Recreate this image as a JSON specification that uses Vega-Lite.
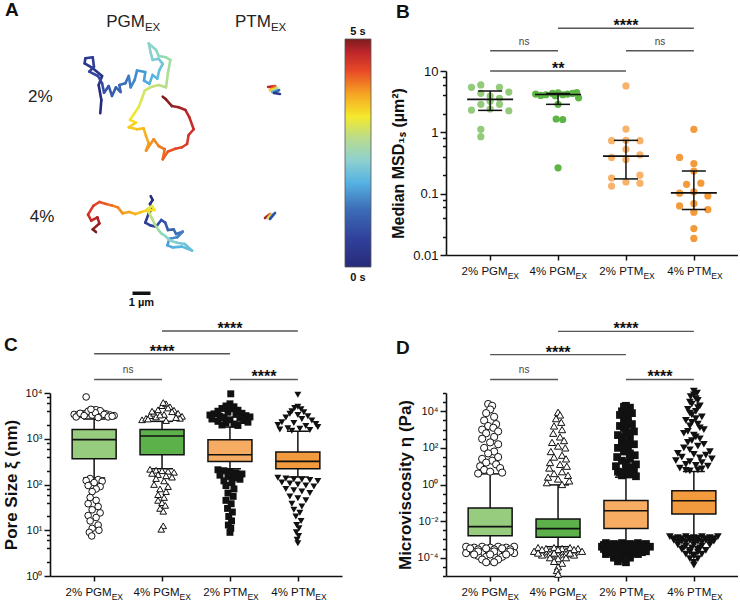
{
"$schema": "https://vega.github.io/schema/vega-lite/v6.json",
"padding": {"left": 2, "top": 0, "right": 0, "bottom": 0},
"config": {
 "font": "Liberation Sans",
 "view": {"stroke": null},
 "axis": {"grid": false, "domainColor": "#111", "domainWidth": 1.6, "tickColor": "#111", "tickWidth": 1.5, "labelColor": "#111", "titleColor": "#111", "labelFont": "Liberation Sans", "titleFont": "Liberation Sans"},
 "title": {"fontSize": 19, "fontWeight": "bold", "color": "#111", "anchor": "start", "frame": "group", "offset": 0, "font": "Liberation Sans"}
},
"datasets": {
 "traj": [
  {"x":5.46,"y":10.93,"x2":5.52,"y2":11.67,"t":0},{"x":5.52,"y":11.67,"x2":5.37,"y2":12.5,"t":0.07},{"x":5.37,"y":12.5,"x2":5.56,"y2":13,"t":0.15},{"x":5.56,"y":13,"x2":5.04,"y2":13.43,"t":0.22},{"x":5.04,"y":13.43,"x2":4.59,"y2":13.7,"t":0.29},{"x":4.59,"y":13.7,"x2":4.63,"y2":13.98,"t":0.37},{"x":4.63,"y":13.98,"x2":5.04,"y2":14.04,"t":0.44},{"x":5.04,"y":14.04,"x2":5.11,"y2":13.52,"t":0.51},{"x":5.11,"y":13.52,"x2":4.85,"y2":13.24,"t":0.59},{"x":4.85,"y":13.24,"x2":5.33,"y2":13,"t":0.66},{"x":5.33,"y":13,"x2":5.56,"y2":12.59,"t":0.74},{"x":5.56,"y":12.59,"x2":5.67,"y2":12.07,"t":0.81},{"x":5.67,"y":12.07,"x2":5.93,"y2":12.44,"t":0.88},{"x":5.93,"y":12.44,"x2":6.11,"y2":11.89,"t":0.96},{"x":6.11,"y":11.89,"x2":6.33,"y2":12.37,"t":1.03},{"x":6.33,"y":12.37,"x2":6.59,"y2":12.11,"t":1.1},{"x":6.59,"y":12.11,"x2":6.52,"y2":12.5,"t":1.18},{"x":6.52,"y":12.5,"x2":6.85,"y2":12.59,"t":1.25},{"x":6.85,"y":12.59,"x2":7.04,"y2":13,"t":1.32},{"x":7.04,"y":13,"x2":7.15,"y2":12.37,"t":1.4},{"x":7.15,"y":12.37,"x2":7.37,"y2":12.78,"t":1.47},{"x":7.37,"y":12.78,"x2":7.5,"y2":13.3,"t":1.54},{"x":7.5,"y":13.3,"x2":7.96,"y2":13.22,"t":1.62},{"x":7.96,"y":13.22,"x2":7.89,"y2":12.74,"t":1.69},{"x":7.89,"y":12.74,"x2":8.19,"y2":12.56,"t":1.76},{"x":8.19,"y":12.56,"x2":8.37,"y2":13.06,"t":1.84},{"x":8.37,"y":13.06,"x2":8.63,"y2":12.85,"t":1.91},{"x":8.63,"y":12.85,"x2":8.74,"y2":13.33,"t":1.99},{"x":8.74,"y":13.33,"x2":8.93,"y2":13.67,"t":2.06},{"x":8.93,"y":13.67,"x2":8.7,"y2":13.96,"t":2.13},{"x":8.7,"y":13.96,"x2":8.37,"y2":13.89,"t":2.21},{"x":8.37,"y":13.89,"x2":8.26,"y2":14.3,"t":2.28},{"x":8.26,"y":14.3,"x2":8.15,"y2":14.81,"t":2.35},{"x":8.15,"y":14.81,"x2":8.56,"y2":14.44,"t":2.43},{"x":8.56,"y":14.44,"x2":8.7,"y2":14.11,"t":2.5},{"x":8.7,"y":14.11,"x2":9.11,"y2":14.04,"t":2.57},{"x":9.11,"y":14.04,"x2":9.35,"y2":13.89,"t":2.65},{"x":9.35,"y":13.89,"x2":9.22,"y2":13.15,"t":2.72},{"x":9.22,"y":13.15,"x2":9.11,"y2":12.37,"t":2.79},{"x":9.11,"y":12.37,"x2":8.7,"y2":12.5,"t":2.87},{"x":8.7,"y":12.5,"x2":8.24,"y2":12.37,"t":2.94},{"x":8.24,"y":12.37,"x2":7.93,"y2":12.19,"t":3.01},{"x":7.93,"y":12.19,"x2":7.78,"y2":11.76,"t":3.09},{"x":7.78,"y":11.76,"x2":7.59,"y2":11.26,"t":3.16},{"x":7.59,"y":11.26,"x2":7.33,"y2":10.89,"t":3.24},{"x":7.33,"y":10.89,"x2":7.11,"y2":10.56,"t":3.31},{"x":7.11,"y":10.56,"x2":7.44,"y2":10.41,"t":3.38},{"x":7.44,"y":10.41,"x2":7.04,"y2":10.15,"t":3.46},{"x":7.04,"y":10.15,"x2":7.5,"y2":10.04,"t":3.53},{"x":7.5,"y":10.04,"x2":7.87,"y2":10.09,"t":3.6},{"x":7.87,"y":10.09,"x2":8,"y2":9.67,"t":3.68},{"x":8,"y":9.67,"x2":8.15,"y2":9.26,"t":3.75},{"x":8.15,"y":9.26,"x2":8,"y2":8.85,"t":3.82},{"x":8,"y":8.85,"x2":8.43,"y2":9.48,"t":3.9},{"x":8.43,"y":9.48,"x2":8.7,"y2":9.11,"t":3.97},{"x":8.7,"y":9.11,"x2":9.04,"y2":8.93,"t":4.04},{"x":9.04,"y":8.93,"x2":8.93,"y2":8.37,"t":4.12},{"x":8.93,"y":8.37,"x2":9.22,"y2":8.8,"t":4.19},{"x":9.22,"y":8.8,"x2":9.63,"y2":8.96,"t":4.26},{"x":9.63,"y":8.96,"x2":10,"y2":9.04,"t":4.34},{"x":10,"y":9.04,"x2":10.28,"y2":9.22,"t":4.41},{"x":10.28,"y":9.22,"x2":10.37,"y2":9.72,"t":4.49},{"x":10.37,"y":9.72,"x2":10.65,"y2":10.04,"t":4.56},{"x":10.65,"y":10.04,"x2":10.41,"y2":10.7,"t":4.63},{"x":10.41,"y":10.7,"x2":10.19,"y2":11.11,"t":4.71},{"x":10.19,"y":11.11,"x2":9.81,"y2":11.26,"t":4.78},{"x":9.81,"y":11.26,"x2":9.44,"y2":11.33,"t":4.85},{"x":9.44,"y":11.33,"x2":9.11,"y2":11.7,"t":4.93},{"x":9.11,"y":11.7,"x2":8.93,"y2":11.85,"t":5},
  {"x":8.26,"y":6.33,"x2":8.37,"y2":6.11,"t":0},{"x":8.37,"y":6.11,"x2":8.22,"y2":5.89,"t":0.11},{"x":8.22,"y":5.89,"x2":8.37,"y2":5.65,"t":0.22},{"x":8.37,"y":5.65,"x2":8.15,"y2":5.37,"t":0.33},{"x":8.15,"y":5.37,"x2":7.96,"y2":4.85,"t":0.43},{"x":7.96,"y":4.85,"x2":8.24,"y2":4.7,"t":0.54},{"x":8.24,"y":4.7,"x2":8.56,"y2":4.63,"t":0.65},{"x":8.56,"y":4.63,"x2":8.85,"y2":5,"t":0.76},{"x":8.85,"y":5,"x2":9.07,"y2":4.85,"t":0.87},{"x":9.07,"y":4.85,"x2":9.22,"y2":4.44,"t":0.98},{"x":9.22,"y":4.44,"x2":9.54,"y2":4.48,"t":1.09},{"x":9.54,"y":4.48,"x2":9.67,"y2":4.22,"t":1.2},{"x":9.67,"y":4.22,"x2":10.04,"y2":4.35,"t":1.3},{"x":10.04,"y":4.35,"x2":9.74,"y2":4.04,"t":1.41},{"x":9.74,"y":4.04,"x2":9.3,"y2":3.96,"t":1.52},{"x":9.3,"y":3.96,"x2":9.19,"y2":3.59,"t":1.63},{"x":9.19,"y":3.59,"x2":9.48,"y2":3.48,"t":1.74},{"x":9.48,"y":3.48,"x2":10,"y2":3.52,"t":1.85},{"x":10,"y":3.52,"x2":10.56,"y2":3.3,"t":1.96},{"x":10.56,"y":3.3,"x2":10.15,"y2":3.67,"t":2.07},{"x":10.15,"y":3.67,"x2":9.72,"y2":3.74,"t":2.17},{"x":9.72,"y":3.74,"x2":9.35,"y2":3.85,"t":2.28},{"x":9.35,"y":3.85,"x2":9.07,"y2":4.11,"t":2.39},{"x":9.07,"y":4.11,"x2":8.85,"y2":4.26,"t":2.5},{"x":8.85,"y":4.26,"x2":8.67,"y2":4.48,"t":2.61},{"x":8.67,"y":4.48,"x2":8.48,"y2":4.78,"t":2.72},{"x":8.48,"y":4.78,"x2":8.33,"y2":5.09,"t":2.83},{"x":8.33,"y":5.09,"x2":8.19,"y2":5.37,"t":2.93},{"x":8.19,"y":5.37,"x2":8.07,"y2":5.59,"t":3.04},{"x":8.07,"y":5.59,"x2":8.33,"y2":5.78,"t":3.15},{"x":8.33,"y":5.78,"x2":8.48,"y2":5.56,"t":3.26},{"x":8.48,"y":5.56,"x2":8,"y2":5.52,"t":3.37},{"x":8,"y":5.52,"x2":7.74,"y2":5.44,"t":3.48},{"x":7.74,"y":5.44,"x2":7.41,"y2":5.33,"t":3.59},{"x":7.41,"y":5.33,"x2":7.07,"y2":5.44,"t":3.7},{"x":7.07,"y":5.44,"x2":6.7,"y2":5.37,"t":3.8},{"x":6.7,"y":5.37,"x2":6.44,"y2":5.7,"t":3.91},{"x":6.44,"y":5.7,"x2":6.11,"y2":5.81,"t":4.02},{"x":6.11,"y":5.81,"x2":5.78,"y2":5.89,"t":4.13},{"x":5.78,"y":5.89,"x2":5.41,"y2":6,"t":4.24},{"x":5.41,"y":6,"x2":5.07,"y2":5.78,"t":4.35},{"x":5.07,"y":5.78,"x2":4.78,"y2":5.3,"t":4.46},{"x":4.78,"y":5.3,"x2":4.96,"y2":4.96,"t":4.57},{"x":4.96,"y":4.96,"x2":5.3,"y2":5.15,"t":4.67},{"x":5.3,"y":5.15,"x2":5.41,"y2":4.81,"t":4.78},{"x":5.41,"y":4.81,"x2":5.04,"y2":4.48,"t":4.89},{"x":5.04,"y":4.48,"x2":5.22,"y2":4.33,"t":5},
  {"x":14.78,"y":12.39,"x2":15.17,"y2":12.44,"t":4.7},{"x":15.17,"y":12.44,"x2":14.89,"y2":12.22,"t":4.2},{"x":14.89,"y":12.22,"x2":15.28,"y2":12.33,"t":3.5},{"x":15.28,"y":12.33,"x2":15,"y2":12.11,"t":2.9},{"x":15,"y":12.11,"x2":15.39,"y2":12.22,"t":2},{"x":15.39,"y":12.22,"x2":15.11,"y2":12.06,"t":1.2},{"x":15.11,"y":12.06,"x2":15.44,"y2":12,"t":0.4},
  {"x":14.61,"y":5.11,"x2":14.89,"y2":5.33,"t":4.8},{"x":14.89,"y":5.33,"x2":14.78,"y2":5.11,"t":4},{"x":14.78,"y":5.11,"x2":15.06,"y2":5.33,"t":3.2},{"x":15.06,"y":5.33,"x2":14.89,"y2":5.06,"t":2},{"x":14.89,"y":5.06,"x2":15.17,"y2":5.39,"t":0.8}
 ],
 "alab": [
  {"x":7.94,"y":15.74,"s":"PGM","k":"main"},{"x":14.94,"y":15.74,"s":"PTM","k":"main"},
  {"x":7.94,"y":15.74,"s":"EX","k":"sub"},{"x":14.94,"y":15.74,"s":"EX","k":"sub"},
  {"x":2.13,"y":11.57,"s":"2%","k":"row"},{"x":2.22,"y":4.9,"s":"4%","k":"row"}
 ],
 "sbar": [{"x":7.25,"x2":8.25,"y":0.93,"mid":7.75,"ly":0.22,"s":"1 µm"}],
 "ptsB": [
  {"g":"2% PGM","v":5.42,"j":-2},{"g":"2% PGM","v":5.92,"j":-1},{"g":"2% PGM","v":5.42,"j":1},{"g":"2% PGM","v":4.54,"j":2},{"g":"2% PGM","v":4.32,"j":-1},{"g":"2% PGM","v":3.59,"j":1},{"g":"2% PGM","v":3.2,"j":0},{"g":"2% PGM","v":2.86,"j":-1},{"g":"2% PGM","v":2.86,"j":1},{"g":"2% PGM","v":2.31,"j":-2},{"g":"2% PGM","v":2.25,"j":2},{"g":"2% PGM","v":2.4,"j":0},{"g":"2% PGM","v":3.9,"j":0},{"g":"2% PGM","v":1.12,"j":-1},{"g":"2% PGM","v":0.85,"j":-1},
  {"g":"4% PGM","v":4.2,"j":-2.4},{"g":"4% PGM","v":4.0,"j":-1.85},{"g":"4% PGM","v":4.1,"j":-1.3},{"g":"4% PGM","v":4.3,"j":-0.6},{"g":"4% PGM","v":4.4,"j":0},{"g":"4% PGM","v":4.1,"j":0.5},{"g":"4% PGM","v":4.2,"j":1},{"g":"4% PGM","v":4.3,"j":1.55},{"g":"4% PGM","v":4.45,"j":2},{"g":"4% PGM","v":3.95,"j":-0.3},{"g":"4% PGM","v":3.65,"j":2.2},{"g":"4% PGM","v":2.86,"j":0},{"g":"4% PGM","v":1.65,"j":-0.2},{"g":"4% PGM","v":1.62,"j":0.5},{"g":"4% PGM","v":0.264,"j":0},
  {"g":"2% PTM","v":5.7,"j":0},{"g":"2% PTM","v":1.13,"j":0},{"g":"2% PTM","v":0.73,"j":-1.54},{"g":"2% PTM","v":0.74,"j":0},{"g":"2% PTM","v":0.73,"j":1.5},{"g":"2% PTM","v":0.53,"j":0},{"g":"2% PTM","v":0.39,"j":-1.54},{"g":"2% PTM","v":0.43,"j":1.5},{"g":"2% PTM","v":0.36,"j":0},{"g":"2% PTM","v":0.18,"j":-1.54},{"g":"2% PTM","v":0.2,"j":1.5},{"g":"2% PTM","v":0.155,"j":0},{"g":"2% PTM","v":0.133,"j":-1.54},{"g":"2% PTM","v":0.148,"j":1.5},
  {"g":"4% PTM","v":1.12,"j":0},{"g":"4% PTM","v":0.39,"j":-1.53},{"g":"4% PTM","v":0.31,"j":0},{"g":"4% PTM","v":0.234,"j":0},{"g":"4% PTM","v":0.142,"j":-0.78},{"g":"4% PTM","v":0.148,"j":0.75},{"g":"4% PTM","v":0.102,"j":-1.53},{"g":"4% PTM","v":0.107,"j":0},{"g":"4% PTM","v":0.092,"j":1.5},{"g":"4% PTM","v":0.063,"j":-1.53},{"g":"4% PTM","v":0.069,"j":0},{"g":"4% PTM","v":0.055,"j":1.5},{"g":"4% PTM","v":0.05,"j":0},{"g":"4% PTM","v":0.027,"j":0},{"g":"4% PTM","v":0.0186,"j":0}
 ],
 "sumB": [
  {"g":"2% PGM","med":3.45,"q1":2.28,"q3":4.72},{"g":"4% PGM","med":4.15,"q1":2.86,"q3":4.3},{"g":"2% PTM","med":0.41,"q1":0.174,"q3":0.74},{"g":"4% PTM","med":0.103,"q1":0.055,"q3":0.234}
 ],
 "brB": [
  {"a":"2% PGM","b":"4% PGM","y":21.4,"s":"ns","span":1},{"a":"2% PTM","b":"4% PTM","y":21.4,"s":"ns","span":1},{"a":"2% PGM","b":"2% PTM","y":10,"s":"**","span":2},{"a":"4% PGM","b":"4% PTM","y":49.7,"s":"****","span":2}
 ],
 "sumC": [
  {"g":"2% PGM","wlo":139,"q1":366,"med":955,"q3":1600,"whi":2700},{"g":"4% PGM","wlo":221,"q1":447,"med":1150,"q3":1600,"whi":2400},{"g":"2% PTM","wlo":221,"q1":320,"med":447,"q3":955,"whi":1800},{"g":"4% PTM","wlo":145,"q1":221,"med":320,"q3":515,"whi":1450}
 ],
 "brC": [
  {"a":"2% PGM","b":"4% PGM","y":19800,"s":"ns","span":1},{"a":"2% PTM","b":"4% PTM","y":19800,"s":"****","span":1},{"a":"2% PGM","b":"2% PTM","y":72200,"s":"****","span":2},{"a":"4% PGM","b":"4% PTM","y":226000,"s":"****","span":2}
 ],
 "outC": [
  {"g":"2% PGM","v":3400,"j":-5},{"g":"2% PGM","v":3300,"j":-4},{"g":"2% PGM","v":3500,"j":-3},{"g":"2% PGM","v":3600,"j":-2},{"g":"2% PGM","v":3800,"j":-1},{"g":"2% PGM","v":4200,"j":0},{"g":"2% PGM","v":3900,"j":1},{"g":"2% PGM","v":3700,"j":2},{"g":"2% PGM","v":3500,"j":3},{"g":"2% PGM","v":3300,"j":4},{"g":"2% PGM","v":3200,"j":5},{"g":"2% PGM","v":3000,"j":-4.5},{"g":"2% PGM","v":3600,"j":-3.5},{"g":"2% PGM","v":4000,"j":-1.5},{"g":"2% PGM","v":4300,"j":0.5},{"g":"2% PGM","v":4100,"j":1.5},{"g":"2% PGM","v":3400,"j":2.5},{"g":"2% PGM","v":3000,"j":3.5},{"g":"2% PGM","v":3300,"j":-0.5},{"g":"2% PGM","v":3700,"j":0.3},{"g":"2% PGM","v":4400,"j":-0.8},{"g":"2% PGM","v":3200,"j":-2.5},{"g":"2% PGM","v":2900,"j":1},{"g":"2% PGM","v":3100,"j":4.5},{"g":"2% PGM","v":8200,"j":-2},
  {"g":"2% PGM","v":135,"j":-1},{"g":"2% PGM","v":128,"j":1},{"g":"2% PGM","v":122,"j":-2},{"g":"2% PGM","v":118,"j":2},{"g":"2% PGM","v":110,"j":0},{"g":"2% PGM","v":95,"j":-1.5},{"g":"2% PGM","v":90,"j":1.5},{"g":"2% PGM","v":80,"j":0.5},{"g":"2% PGM","v":70,"j":-0.5},{"g":"2% PGM","v":52,"j":-1},{"g":"2% PGM","v":45,"j":0.5},{"g":"2% PGM","v":38,"j":-1.5},{"g":"2% PGM","v":33,"j":1},{"g":"2% PGM","v":28,"j":-0.5},{"g":"2% PGM","v":24,"j":1.5},{"g":"2% PGM","v":21,"j":-1.5},{"g":"2% PGM","v":19,"j":0.5},{"g":"2% PGM","v":16,"j":-1},{"g":"2% PGM","v":13,"j":1},{"g":"2% PGM","v":11,"j":-0.5},{"g":"2% PGM","v":10,"j":1.2},{"g":"2% PGM","v":9,"j":-1.2},{"g":"2% PGM","v":7.5,"j":-0.6},
  {"g":"4% PGM","v":2600,"j":-5},{"g":"4% PGM","v":2800,"j":-4},{"g":"4% PGM","v":3200,"j":-3},{"g":"4% PGM","v":3600,"j":-2},{"g":"4% PGM","v":4300,"j":-1},{"g":"4% PGM","v":5300,"j":0},{"g":"4% PGM","v":5800,"j":1},{"g":"4% PGM","v":5000,"j":2},{"g":"4% PGM","v":4200,"j":3},{"g":"4% PGM","v":3600,"j":4},{"g":"4% PGM","v":3100,"j":5},{"g":"4% PGM","v":2700,"j":-3.5},{"g":"4% PGM","v":3000,"j":-1.5},{"g":"4% PGM","v":3400,"j":0.5},{"g":"4% PGM","v":4700,"j":1.5},{"g":"4% PGM","v":3900,"j":2.5},{"g":"4% PGM","v":2800,"j":4.5},{"g":"4% PGM","v":2500,"j":1},{"g":"4% PGM","v":3300,"j":-0.5},{"g":"4% PGM","v":4000,"j":-2.5},{"g":"4% PGM","v":6200,"j":0.3},{"g":"4% PGM","v":2900,"j":3.5},
  {"g":"4% PGM","v":215,"j":-3},{"g":"4% PGM","v":205,"j":-1.5},{"g":"4% PGM","v":200,"j":0},{"g":"4% PGM","v":195,"j":1.5},{"g":"4% PGM","v":185,"j":3},{"g":"4% PGM","v":175,"j":-2.5},{"g":"4% PGM","v":165,"j":-1},{"g":"4% PGM","v":155,"j":1},{"g":"4% PGM","v":145,"j":2.5},{"g":"4% PGM","v":135,"j":-1.5},{"g":"4% PGM","v":120,"j":0.5},{"g":"4% PGM","v":100,"j":-2},{"g":"4% PGM","v":90,"j":1.5},{"g":"4% PGM","v":80,"j":-0.5},{"g":"4% PGM","v":70,"j":1},{"g":"4% PGM","v":60,"j":-1},{"g":"4% PGM","v":52,"j":0.5},{"g":"4% PGM","v":45,"j":-1},{"g":"4% PGM","v":40,"j":0},{"g":"4% PGM","v":35,"j":0.8},{"g":"4% PGM","v":30,"j":-0.5},{"g":"4% PGM","v":26,"j":0.3},{"g":"4% PGM","v":12.5,"j":0.3},{"g":"4% PGM","v":10.5,"j":-0.2},
  {"g":"2% PTM","v":9600,"j":0.2},{"g":"2% PTM","v":5800,"j":0},{"g":"2% PTM","v":5200,"j":-1},{"g":"2% PTM","v":5000,"j":1},{"g":"2% PTM","v":4600,"j":-2},{"g":"2% PTM","v":4500,"j":0.5},{"g":"2% PTM","v":4200,"j":2},{"g":"2% PTM","v":4000,"j":-3},{"g":"2% PTM","v":3800,"j":-0.5},{"g":"2% PTM","v":3600,"j":3},{"g":"2% PTM","v":3500,"j":-4},{"g":"2% PTM","v":3400,"j":1.5},{"g":"2% PTM","v":3300,"j":-5},{"g":"2% PTM","v":3200,"j":4},{"g":"2% PTM","v":3100,"j":-2.5},{"g":"2% PTM","v":3000,"j":5},{"g":"2% PTM","v":2900,"j":-1.5},{"g":"2% PTM","v":2800,"j":2.5},{"g":"2% PTM","v":2700,"j":-4.5},{"g":"2% PTM","v":2600,"j":0},{"g":"2% PTM","v":2500,"j":3.5},{"g":"2% PTM","v":2400,"j":-3},{"g":"2% PTM","v":2300,"j":4.5},{"g":"2% PTM","v":2200,"j":-1},{"g":"2% PTM","v":2100,"j":1},{"g":"2% PTM","v":2000,"j":-2},{"g":"2% PTM","v":1950,"j":2},
  {"g":"2% PTM","v":210,"j":-3},{"g":"2% PTM","v":200,"j":-1.5},{"g":"2% PTM","v":190,"j":0},{"g":"2% PTM","v":180,"j":1.5},{"g":"2% PTM","v":170,"j":3},{"g":"2% PTM","v":160,"j":-2.5},{"g":"2% PTM","v":150,"j":-0.5},{"g":"2% PTM","v":140,"j":1},{"g":"2% PTM","v":130,"j":2.5},{"g":"2% PTM","v":120,"j":-1.5},{"g":"2% PTM","v":110,"j":0.5},{"g":"2% PTM","v":95,"j":-1},{"g":"2% PTM","v":80,"j":1},{"g":"2% PTM","v":65,"j":-0.5},{"g":"2% PTM","v":55,"j":0.8},{"g":"2% PTM","v":45,"j":-1},{"g":"2% PTM","v":38,"j":0.3},{"g":"2% PTM","v":30,"j":-0.6},{"g":"2% PTM","v":25,"j":0.6},{"g":"2% PTM","v":20,"j":-0.3},{"g":"2% PTM","v":16,"j":0.4},{"g":"2% PTM","v":13,"j":-0.4},{"g":"2% PTM","v":11,"j":0.2},{"g":"2% PTM","v":9,"j":0},
  {"g":"4% PTM","v":9100,"j":0},{"g":"4% PTM","v":5000,"j":0},{"g":"4% PTM","v":4700,"j":-0.8},{"g":"4% PTM","v":4400,"j":0.8},{"g":"4% PTM","v":4000,"j":-1.5},{"g":"4% PTM","v":3800,"j":1.5},{"g":"4% PTM","v":3500,"j":-2},{"g":"4% PTM","v":3300,"j":0},{"g":"4% PTM","v":3100,"j":2.5},{"g":"4% PTM","v":2900,"j":-3},{"g":"4% PTM","v":2700,"j":1},{"g":"4% PTM","v":2500,"j":3.5},{"g":"4% PTM","v":2300,"j":-4},{"g":"4% PTM","v":2200,"j":-1},{"g":"4% PTM","v":2100,"j":4.5},{"g":"4% PTM","v":2000,"j":-5},{"g":"4% PTM","v":1900,"j":2},{"g":"4% PTM","v":1800,"j":5},{"g":"4% PTM","v":1700,"j":-2.5},{"g":"4% PTM","v":1650,"j":0.5},{"g":"4% PTM","v":1600,"j":-4.5},{"g":"4% PTM","v":1550,"j":3},{"g":"4% PTM","v":1500,"j":-1.5},
  {"g":"4% PTM","v":140,"j":-5},{"g":"4% PTM","v":135,"j":-3},{"g":"4% PTM","v":130,"j":-1},{"g":"4% PTM","v":128,"j":1},{"g":"4% PTM","v":125,"j":3},{"g":"4% PTM","v":120,"j":5},{"g":"4% PTM","v":110,"j":-4},{"g":"4% PTM","v":105,"j":-2},{"g":"4% PTM","v":100,"j":0},{"g":"4% PTM","v":95,"j":2},{"g":"4% PTM","v":90,"j":4},{"g":"4% PTM","v":80,"j":-3},{"g":"4% PTM","v":75,"j":-1},{"g":"4% PTM","v":70,"j":1},{"g":"4% PTM","v":65,"j":3},{"g":"4% PTM","v":55,"j":-2},{"g":"4% PTM","v":50,"j":0},{"g":"4% PTM","v":45,"j":2},{"g":"4% PTM","v":38,"j":-1.5},{"g":"4% PTM","v":33,"j":1},{"g":"4% PTM","v":28,"j":-1},{"g":"4% PTM","v":24,"j":0.5},{"g":"4% PTM","v":20,"j":-0.5},{"g":"4% PTM","v":16,"j":0.8},{"g":"4% PTM","v":13,"j":-0.3},{"g":"4% PTM","v":11,"j":0.3},{"g":"4% PTM","v":9,"j":-0.4},{"g":"4% PTM","v":7.5,"j":0.2},{"g":"4% PTM","v":6.2,"j":-0.2},{"g":"4% PTM","v":5.2,"j":0}
 ],
 "sumD": [
  {"g":"2% PGM","wlo":0.00045,"q1":0.0016,"med":0.005,"q3":0.052,"whi":3.8},{"g":"4% PGM","wlo":0.0004,"q1":0.0013,"med":0.0039,"q3":0.013,"whi":0.95},{"g":"2% PTM","wlo":0.0007,"q1":0.0039,"med":0.037,"q3":0.135,"whi":2.5},{"g":"4% PTM","wlo":0.0016,"q1":0.0245,"med":0.129,"q3":0.45,"whi":5.1}
 ],
 "brD": [
  {"a":"2% PGM","b":"4% PGM","y":550000,"s":"ns","span":1},{"a":"2% PTM","b":"4% PTM","y":550000,"s":"****","span":1},{"a":"2% PGM","b":"2% PTM","y":12500000,"s":"****","span":2},{"a":"4% PGM","b":"4% PTM","y":233000000,"s":"****","span":2}
 ],
 "outD": [
  {"g":"2% PGM","v":25100,"j":-0.5},{"g":"2% PGM","v":20000,"j":0.5},{"g":"2% PGM","v":12600,"j":0},{"g":"2% PGM","v":7940,"j":-1},{"g":"2% PGM","v":5010,"j":1},{"g":"2% PGM","v":3160,"j":-1.5},{"g":"2% PGM","v":2000,"j":1.5},{"g":"2% PGM","v":1580,"j":-0.5},{"g":"2% PGM","v":1260,"j":0.8},{"g":"2% PGM","v":1000,"j":-2},{"g":"2% PGM","v":794,"j":2},{"g":"2% PGM","v":631,"j":-1},{"g":"2% PGM","v":398,"j":1},{"g":"2% PGM","v":316,"j":-2},{"g":"2% PGM","v":200,"j":0},{"g":"2% PGM","v":158,"j":2},{"g":"2% PGM","v":100,"j":-1.5},{"g":"2% PGM","v":63.1,"j":1},{"g":"2% PGM","v":50.1,"j":-0.5},{"g":"2% PGM","v":31.6,"j":2},{"g":"2% PGM","v":25.1,"j":-2},{"g":"2% PGM","v":20,"j":0.5},{"g":"2% PGM","v":15.8,"j":-1},{"g":"2% PGM","v":12.6,"j":1.5},{"g":"2% PGM","v":10,"j":-2.5},{"g":"2% PGM","v":7.94,"j":2.5},{"g":"2% PGM","v":6.31,"j":-1.5},{"g":"2% PGM","v":5.01,"j":0},{"g":"2% PGM","v":4.47,"j":3},{"g":"2% PGM","v":3.98,"j":-3},
  {"g":"2% PGM","v":0.000398,"j":-6},{"g":"2% PGM","v":0.000355,"j":-4},{"g":"2% PGM","v":0.000398,"j":-2},{"g":"2% PGM","v":0.000355,"j":0},{"g":"2% PGM","v":0.000398,"j":2},{"g":"2% PGM","v":0.000355,"j":4},{"g":"2% PGM","v":0.000398,"j":6},{"g":"2% PGM","v":0.000251,"j":-5},{"g":"2% PGM","v":0.000282,"j":-3},{"g":"2% PGM","v":0.000251,"j":-1},{"g":"2% PGM","v":0.000282,"j":1},{"g":"2% PGM","v":0.000251,"j":3},{"g":"2% PGM","v":0.000282,"j":5},{"g":"2% PGM","v":0.000178,"j":-6},{"g":"2% PGM","v":0.0002,"j":-4},{"g":"2% PGM","v":0.000178,"j":-2},{"g":"2% PGM","v":0.0002,"j":0},{"g":"2% PGM","v":0.000178,"j":2},{"g":"2% PGM","v":0.0002,"j":4},{"g":"2% PGM","v":0.000178,"j":6},{"g":"2% PGM","v":0.000126,"j":-3},{"g":"2% PGM","v":0.000112,"j":-1},{"g":"2% PGM","v":0.000126,"j":1},{"g":"2% PGM","v":0.000112,"j":3},{"g":"2% PGM","v":0.0000794,"j":-2},{"g":"2% PGM","v":0.0000708,"j":0},{"g":"2% PGM","v":0.0000794,"j":2},{"g":"2% PGM","v":0.0000562,"j":-1},{"g":"2% PGM","v":0.0000562,"j":1},
  {"g":"2% PGM","v":0.00032,"j":-5},{"g":"2% PGM","v":0.00032,"j":-1},{"g":"2% PGM","v":0.00032,"j":3},{"g":"2% PGM","v":0.00022,"j":-3},{"g":"2% PGM","v":0.00022,"j":1},{"g":"2% PGM","v":0.00022,"j":5},{"g":"2% PGM","v":0.00015,"j":-4},{"g":"2% PGM","v":0.00015,"j":0},{"g":"2% PGM","v":0.00015,"j":4},
  {"g":"4% PGM","v":8910,"j":0},{"g":"4% PGM","v":6310,"j":0.5},{"g":"4% PGM","v":3980,"j":-0.5},{"g":"4% PGM","v":2510,"j":0.8},{"g":"4% PGM","v":1580,"j":-1},{"g":"4% PGM","v":1000,"j":1},{"g":"4% PGM","v":631,"j":-1.2},{"g":"4% PGM","v":398,"j":0.5},{"g":"4% PGM","v":251,"j":1.5},{"g":"4% PGM","v":200,"j":-1.5},{"g":"4% PGM","v":126,"j":0},{"g":"4% PGM","v":100,"j":1.8},{"g":"4% PGM","v":63.1,"j":-1.8},{"g":"4% PGM","v":39.8,"j":1},{"g":"4% PGM","v":31.6,"j":-1},{"g":"4% PGM","v":25.1,"j":2},{"g":"4% PGM","v":15.8,"j":-2},{"g":"4% PGM","v":12.6,"j":0.5},{"g":"4% PGM","v":10,"j":2.2},{"g":"4% PGM","v":7.94,"j":-2.2},{"g":"4% PGM","v":5.01,"j":1},{"g":"4% PGM","v":3.98,"j":-1},{"g":"4% PGM","v":3.16,"j":2.5},{"g":"4% PGM","v":2.51,"j":-2.5},{"g":"4% PGM","v":2.0,"j":0},{"g":"4% PGM","v":1.58,"j":2.8},{"g":"4% PGM","v":1.26,"j":-2.8},{"g":"4% PGM","v":1.0,"j":1},
  {"g":"4% PGM","v":0.000355,"j":-5},{"g":"4% PGM","v":0.000316,"j":-3},{"g":"4% PGM","v":0.000355,"j":-1},{"g":"4% PGM","v":0.000316,"j":1},{"g":"4% PGM","v":0.000355,"j":3},{"g":"4% PGM","v":0.000316,"j":5},{"g":"4% PGM","v":0.000224,"j":-6},{"g":"4% PGM","v":0.0002,"j":-4},{"g":"4% PGM","v":0.000224,"j":-2},{"g":"4% PGM","v":0.0002,"j":0},{"g":"4% PGM","v":0.000224,"j":2},{"g":"4% PGM","v":0.0002,"j":4},{"g":"4% PGM","v":0.000224,"j":6},{"g":"4% PGM","v":0.000141,"j":-4},{"g":"4% PGM","v":0.000158,"j":-2},{"g":"4% PGM","v":0.000141,"j":0},{"g":"4% PGM","v":0.000158,"j":2},{"g":"4% PGM","v":0.000141,"j":4},{"g":"4% PGM","v":0.0001,"j":-2},{"g":"4% PGM","v":0.0000891,"j":0},{"g":"4% PGM","v":0.0001,"j":2},{"g":"4% PGM","v":0.0000631,"j":-1},{"g":"4% PGM","v":0.0000501,"j":1},{"g":"4% PGM","v":0.0000316,"j":0},{"g":"4% PGM","v":0.00002,"j":-0.3},{"g":"4% PGM","v":0.0000126,"j":0},
  {"g":"4% PGM","v":0.00028,"j":-4},{"g":"4% PGM","v":0.00028,"j":0},{"g":"4% PGM","v":0.00028,"j":4},{"g":"4% PGM","v":0.00018,"j":-5},{"g":"4% PGM","v":0.00018,"j":-1},{"g":"4% PGM","v":0.00018,"j":3},
  {"g":"2% PTM","v":20000,"j":0},{"g":"2% PTM","v":15800,"j":1},{"g":"2% PTM","v":10000,"j":-1},{"g":"2% PTM","v":7940,"j":1.5},{"g":"2% PTM","v":6310,"j":-1.5},{"g":"2% PTM","v":3980,"j":0.5},{"g":"2% PTM","v":3160,"j":-0.5},{"g":"2% PTM","v":2000,"j":1.5},{"g":"2% PTM","v":1580,"j":-1.5},{"g":"2% PTM","v":1000,"j":0},{"g":"2% PTM","v":794,"j":2},{"g":"2% PTM","v":501,"j":-2},{"g":"2% PTM","v":316,"j":1},{"g":"2% PTM","v":251,"j":-1},{"g":"2% PTM","v":158,"j":2},{"g":"2% PTM","v":100,"j":-2},{"g":"2% PTM","v":79.4,"j":0.5},{"g":"2% PTM","v":63.1,"j":-0.5},{"g":"2% PTM","v":39.8,"j":2.2},{"g":"2% PTM","v":31.6,"j":-2.2},{"g":"2% PTM","v":25.1,"j":1},{"g":"2% PTM","v":20,"j":-1},{"g":"2% PTM","v":12.6,"j":2.5},{"g":"2% PTM","v":10,"j":-2.5},{"g":"2% PTM","v":7.94,"j":0},{"g":"2% PTM","v":6.31,"j":2},{"g":"2% PTM","v":5.01,"j":-2},{"g":"2% PTM","v":3.98,"j":1},{"g":"2% PTM","v":3.16,"j":-1},{"g":"2% PTM","v":2.82,"j":2.5},
  {"g":"2% PTM","v":17800,"j":-0.5},{"g":"2% PTM","v":12600,"j":0.5},{"g":"2% PTM","v":5010,"j":0},{"g":"2% PTM","v":2510,"j":0.5},{"g":"2% PTM","v":1260,"j":-0.5},{"g":"2% PTM","v":631,"j":0.5},{"g":"2% PTM","v":398,"j":-1},{"g":"2% PTM","v":200,"j":0.5},{"g":"2% PTM","v":126,"j":-1},{"g":"2% PTM","v":50.1,"j":1},{"g":"2% PTM","v":15.8,"j":0},{"g":"2% PTM","v":8.91,"j":1.5},{"g":"2% PTM","v":4.47,"j":-1.5},{"g":"2% PTM","v":3.5,"j":0.5},
  {"g":"2% PTM","v":0.000631,"j":-5},{"g":"2% PTM","v":0.000562,"j":-3},{"g":"2% PTM","v":0.000631,"j":-1},{"g":"2% PTM","v":0.000562,"j":1},{"g":"2% PTM","v":0.000631,"j":3},{"g":"2% PTM","v":0.000562,"j":5},{"g":"2% PTM","v":0.000398,"j":-6},{"g":"2% PTM","v":0.000355,"j":-4},{"g":"2% PTM","v":0.000398,"j":-2},{"g":"2% PTM","v":0.000355,"j":0},{"g":"2% PTM","v":0.000398,"j":2},{"g":"2% PTM","v":0.000355,"j":4},{"g":"2% PTM","v":0.000398,"j":6},{"g":"2% PTM","v":0.000251,"j":-5},{"g":"2% PTM","v":0.000224,"j":-3},{"g":"2% PTM","v":0.000251,"j":-1},{"g":"2% PTM","v":0.000224,"j":1},{"g":"2% PTM","v":0.000251,"j":3},{"g":"2% PTM","v":0.000224,"j":5},{"g":"2% PTM","v":0.000158,"j":-5},{"g":"2% PTM","v":0.000141,"j":-3},{"g":"2% PTM","v":0.000158,"j":-1},{"g":"2% PTM","v":0.000141,"j":1},{"g":"2% PTM","v":0.000158,"j":3},{"g":"2% PTM","v":0.0001,"j":-3},{"g":"2% PTM","v":0.0000891,"j":-1},{"g":"2% PTM","v":0.0001,"j":1},{"g":"2% PTM","v":0.0000631,"j":-2},{"g":"2% PTM","v":0.0000562,"j":0},
  {"g":"2% PTM","v":0.0005,"j":-5.5},{"g":"2% PTM","v":0.0005,"j":-3.5},{"g":"2% PTM","v":0.0005,"j":-1.5},{"g":"2% PTM","v":0.0005,"j":0.5},{"g":"2% PTM","v":0.0005,"j":2.5},{"g":"2% PTM","v":0.0005,"j":4.5},{"g":"2% PTM","v":0.0003,"j":-5.5},{"g":"2% PTM","v":0.0003,"j":-3.5},{"g":"2% PTM","v":0.0003,"j":-1.5},{"g":"2% PTM","v":0.0003,"j":0.5},{"g":"2% PTM","v":0.0003,"j":2.5},{"g":"2% PTM","v":0.0003,"j":4.5},{"g":"2% PTM","v":0.0002,"j":-4},{"g":"2% PTM","v":0.0002,"j":-2},{"g":"2% PTM","v":0.0002,"j":0},{"g":"2% PTM","v":0.0002,"j":2},{"g":"2% PTM","v":0.0002,"j":4},
  {"g":"4% PTM","v":126000,"j":0},{"g":"4% PTM","v":100000,"j":0.8},{"g":"4% PTM","v":63100,"j":-0.8},{"g":"4% PTM","v":39800,"j":1},{"g":"4% PTM","v":31600,"j":-1},{"g":"4% PTM","v":20000,"j":1.5},{"g":"4% PTM","v":12600,"j":-1.5},{"g":"4% PTM","v":10000,"j":0.5},{"g":"4% PTM","v":6310,"j":-0.5},{"g":"4% PTM","v":5010,"j":2},{"g":"4% PTM","v":3160,"j":-2},{"g":"4% PTM","v":2000,"j":1},{"g":"4% PTM","v":1580,"j":-1},{"g":"4% PTM","v":1000,"j":2.5},{"g":"4% PTM","v":631,"j":-2.5},{"g":"4% PTM","v":501,"j":0},{"g":"4% PTM","v":316,"j":1.5},{"g":"4% PTM","v":200,"j":-1.5},{"g":"4% PTM","v":158,"j":2.5},{"g":"4% PTM","v":100,"j":-2.5},{"g":"4% PTM","v":63.1,"j":4},{"g":"4% PTM","v":50.1,"j":-4},{"g":"4% PTM","v":39.8,"j":3},{"g":"4% PTM","v":31.6,"j":-3},{"g":"4% PTM","v":25.1,"j":4.5},{"g":"4% PTM","v":20,"j":-4.5},{"g":"4% PTM","v":15.8,"j":2},{"g":"4% PTM","v":12.6,"j":-2},{"g":"4% PTM","v":10,"j":3.5},{"g":"4% PTM","v":7.94,"j":-3.5},{"g":"4% PTM","v":6.31,"j":1},{"g":"4% PTM","v":5.62,"j":-1},
  {"g":"4% PTM","v":79400,"j":0},{"g":"4% PTM","v":50100,"j":0.5},{"g":"4% PTM","v":25100,"j":-0.5},{"g":"4% PTM","v":15800,"j":1},{"g":"4% PTM","v":7940,"j":-1},{"g":"4% PTM","v":3980,"j":0.5},{"g":"4% PTM","v":2510,"j":-0.5},{"g":"4% PTM","v":1260,"j":1.5},{"g":"4% PTM","v":794,"j":-1.5},{"g":"4% PTM","v":398,"j":0.5},{"g":"4% PTM","v":251,"j":-0.5},{"g":"4% PTM","v":126,"j":1},{"g":"4% PTM","v":79.4,"j":-1},{"g":"4% PTM","v":44.7,"j":0},{"g":"4% PTM","v":28.2,"j":1.5},{"g":"4% PTM","v":17.8,"j":-1},{"g":"4% PTM","v":11.2,"j":0.5},{"g":"4% PTM","v":7.08,"j":2},{"g":"4% PTM","v":6.0,"j":-2},
  {"g":"4% PTM","v":0.00141,"j":-6},{"g":"4% PTM","v":0.00126,"j":-4},{"g":"4% PTM","v":0.00141,"j":-2},{"g":"4% PTM","v":0.00126,"j":0},{"g":"4% PTM","v":0.00141,"j":2},{"g":"4% PTM","v":0.00126,"j":4},{"g":"4% PTM","v":0.00141,"j":6},{"g":"4% PTM","v":0.000891,"j":-5},{"g":"4% PTM","v":0.000794,"j":-3},{"g":"4% PTM","v":0.000891,"j":-1},{"g":"4% PTM","v":0.000794,"j":1},{"g":"4% PTM","v":0.000891,"j":3},{"g":"4% PTM","v":0.000794,"j":5},{"g":"4% PTM","v":0.000501,"j":-4},{"g":"4% PTM","v":0.000447,"j":-2},{"g":"4% PTM","v":0.000501,"j":0},{"g":"4% PTM","v":0.000447,"j":2},{"g":"4% PTM","v":0.000501,"j":4},{"g":"4% PTM","v":0.000282,"j":-3},{"g":"4% PTM","v":0.000251,"j":-1},{"g":"4% PTM","v":0.000282,"j":1},{"g":"4% PTM","v":0.000251,"j":3},{"g":"4% PTM","v":0.000158,"j":-2},{"g":"4% PTM","v":0.000141,"j":0},{"g":"4% PTM","v":0.000158,"j":2},{"g":"4% PTM","v":0.0000891,"j":-1},{"g":"4% PTM","v":0.0000891,"j":1},{"g":"4% PTM","v":0.0000562,"j":0},{"g":"4% PTM","v":0.0000398,"j":0},
  {"g":"4% PTM","v":0.00112,"j":-5},{"g":"4% PTM","v":0.00112,"j":-3},{"g":"4% PTM","v":0.00112,"j":-1},{"g":"4% PTM","v":0.00112,"j":1},{"g":"4% PTM","v":0.00112,"j":3},{"g":"4% PTM","v":0.00112,"j":5},{"g":"4% PTM","v":0.0007,"j":-4},{"g":"4% PTM","v":0.0007,"j":-2},{"g":"4% PTM","v":0.0007,"j":0},{"g":"4% PTM","v":0.0007,"j":2},{"g":"4% PTM","v":0.0007,"j":4},{"g":"4% PTM","v":0.00035,"j":-2.5},{"g":"4% PTM","v":0.00035,"j":-0.5},{"g":"4% PTM","v":0.00035,"j":1.5},{"g":"4% PTM","v":0.0002,"j":-1},{"g":"4% PTM","v":0.0002,"j":1},{"g":"4% PTM","v":0.00012,"j":0}
 ]
},
"resolve": {"scale": {"color": "independent", "shape": "independent", "xOffset": "independent"}, "legend": {"color": "independent", "shape": "independent"}},
"spacing": 18,
"hconcat": [
 {
  "spacing": 11,
  "resolve": {"scale": {"color": "independent", "shape": "independent", "xOffset": "independent"}, "legend": {"color": "independent", "shape": "independent"}},
  "vconcat": [
   {
    "width": 321, "height": 239,
    "title": {"text": "A", "dx": -45, "dy": 11},
    "resolve": {"scale": {"x": "independent", "y": "independent"}, "axis": {"x": "independent", "y": "independent"}},
    "layer": [
     {"data": {"name": "traj"}, "mark": {"type": "rule", "strokeWidth": 2.6, "strokeCap": "round"},
      "encoding": {
       "x": {"field": "x", "type": "quantitative", "scale": {"domain": [1, 20.5], "range": [-30, 321], "nice": false, "zero": false}, "axis": null},
       "y": {"field": "y", "type": "quantitative", "scale": {"domain": [0, 17.22], "range": [239, -71], "nice": false, "zero": false}, "axis": null},
       "x2": {"field": "x2"}, "y2": {"field": "y2"},
       "color": {"field": "t", "type": "quantitative", "scale": {"domain": [0, 0.6, 1.25, 1.85, 2.35, 2.85, 3.3, 3.8, 4.3, 4.7, 5], "range": ["#272b7a", "#30409a", "#3c6bb6", "#56b2e2", "#8fd1cf", "#bcdc88", "#f4e92c", "#f6a323", "#e84a26", "#bf262b", "#7c1d1f"]}, "legend": null}
      }},
     {"data": {"name": "sbar"}, "mark": {"type": "rule", "strokeWidth": 3.5, "color": "#111"},
      "encoding": {
       "x": {"field": "x", "type": "quantitative", "scale": {"domain": [1, 20.5], "range": [-30, 321], "nice": false, "zero": false}, "axis": null},
       "x2": {"field": "x2"},
       "y": {"field": "y", "type": "quantitative", "scale": {"domain": [0, 17.22], "range": [239, -71], "nice": false, "zero": false}, "axis": null}
      }},
     {"data": {"name": "sbar"}, "mark": {"type": "text", "fontSize": 11, "fontWeight": "bold", "baseline": "alphabetic", "color": "#111"},
      "encoding": {
       "x": {"field": "mid", "type": "quantitative", "scale": {"domain": [1, 20.5], "range": [-30, 321], "nice": false, "zero": false}, "axis": null},
       "y": {"field": "ly", "type": "quantitative", "scale": {"domain": [0, 17.22], "range": [239, -71], "nice": false, "zero": false}, "axis": null},
       "text": {"field": "s"}
      }},
     {"data": {"name": "alab"}, "transform": [{"filter": "datum.k == 'main'"}], "mark": {"type": "text", "fontSize": 17, "align": "right", "baseline": "alphabetic", "color": "#222"},
      "encoding": {
       "x": {"field": "x", "type": "quantitative", "scale": {"domain": [1, 20.5], "range": [-30, 321], "nice": false, "zero": false}, "axis": null},
       "y": {"field": "y", "type": "quantitative", "scale": {"domain": [0, 17.22], "range": [239, -71], "nice": false, "zero": false}, "axis": null},
       "text": {"field": "s"}
      }},
     {"data": {"name": "alab"}, "transform": [{"filter": "datum.k == 'sub'"}], "mark": {"type": "text", "fontSize": 11.5, "align": "left", "baseline": "alphabetic", "dy": 4, "color": "#222"},
      "encoding": {
       "x": {"field": "x", "type": "quantitative", "scale": {"domain": [1, 20.5], "range": [-30, 321], "nice": false, "zero": false}, "axis": null},
       "y": {"field": "y", "type": "quantitative", "scale": {"domain": [0, 17.22], "range": [239, -71], "nice": false, "zero": false}, "axis": null},
       "text": {"field": "s"}
      }},
     {"data": {"name": "alab"}, "transform": [{"filter": "datum.k == 'row'"}], "mark": {"type": "text", "fontSize": 17, "align": "center", "baseline": "alphabetic", "color": "#222"},
      "encoding": {
       "x": {"field": "x", "type": "quantitative", "scale": {"domain": [1, 20.5], "range": [-30, 321], "nice": false, "zero": false}, "axis": null},
       "y": {"field": "y", "type": "quantitative", "scale": {"domain": [0, 17.22], "range": [239, -71], "nice": false, "zero": false}, "axis": null},
       "text": {"field": "s"}
      }},
     {"data": {"values": [{"t0": 0, "t1": 5}]},
      "mark": {"type": "rect", "stroke": "#555", "strokeWidth": 0.8,
       "fill": {"gradient": "linear", "x1": 0, "y1": 1, "x2": 0, "y2": 0, "stops": [{"offset": 0, "color": "#272b7a"}, {"offset": 0.12, "color": "#30409a"}, {"offset": 0.25, "color": "#3c6bb6"}, {"offset": 0.37, "color": "#56b2e2"}, {"offset": 0.47, "color": "#8fd1cf"}, {"offset": 0.57, "color": "#bcdc88"}, {"offset": 0.66, "color": "#f4e92c"}, {"offset": 0.76, "color": "#f6a323"}, {"offset": 0.86, "color": "#e84a26"}, {"offset": 0.94, "color": "#bf262b"}, {"offset": 1, "color": "#7c1d1f"}]}},
      "encoding": {
       "y": {"field": "t0", "type": "quantitative", "scale": {"domain": [0, 5], "range": [196, -32], "nice": false, "zero": false}, "axis": null},
       "y2": {"field": "t1"},
       "x": {"datum": 0, "type": "quantitative", "scale": {"domain": [0, 1], "range": [295, 321], "nice": false, "zero": false}, "axis": null},
       "x2": {"datum": 1}
      }},
     {"data": {"values": [{"t": 5, "s": "5 s"}, {"t": 0, "s": "0 s"}]}, "transform": [{"filter": "datum.t == 5"}],
      "mark": {"type": "text", "fontSize": 11, "fontWeight": "bold", "baseline": "alphabetic", "dy": -4, "color": "#111"},
      "encoding": {
       "y": {"field": "t", "type": "quantitative", "scale": {"domain": [0, 5], "range": [196, -32], "nice": false, "zero": false}, "axis": null},
       "x": {"datum": 0.5, "type": "quantitative", "scale": {"domain": [0, 1], "range": [295, 321], "nice": false, "zero": false}, "axis": null},
       "text": {"field": "s"}
      }},
     {"data": {"values": [{"t": 5, "s": "5 s"}, {"t": 0, "s": "0 s"}]}, "transform": [{"filter": "datum.t == 0"}],
      "mark": {"type": "text", "fontSize": 11, "fontWeight": "bold", "baseline": "top", "dy": 5, "color": "#111"},
      "encoding": {
       "y": {"field": "t", "type": "quantitative", "scale": {"domain": [0, 5], "range": [196, -32], "nice": false, "zero": false}, "axis": null},
       "x": {"datum": 0.5, "type": "quantitative", "scale": {"domain": [0, 1], "range": [295, 321], "nice": false, "zero": false}, "axis": null},
       "text": {"field": "s"}
      }}
    ]
   },
   {
    "width": 292, "height": 183,
    "title": {"text": "C", "dx": -46, "dy": 38},
    "resolve": {"axis": {"x": "independent"}},
    "layer": [
     {"data": {"name": "sumC"}, "mark": {"type": "rule", "color": "#111", "strokeWidth": 1.5},
      "encoding": {
       "x": {"field": "g", "type": "nominal", "scale": {"type": "point", "domain": ["2% PGM", "4% PGM", "2% PTM", "4% PTM"], "padding": 0.65}, "axis": null},
       "y": {"field": "wlo", "type": "quantitative", "scale": {"type": "log", "domain": [1, 10000], "nice": false},
        "axis": {"title": "Pore Size ξ  (nm)", "titleFontSize": 17, "titleFontWeight": "bold", "titlePadding": 5, "labelFontSize": 11, "labelPadding": 2, "values": [1, 2, 4, 6, 8, 10, 20, 40, 60, 80, 100, 200, 400, 600, 800, 1000, 2000, 4000, 6000, 8000, 10000], "labelExpr": "datum.value == 1 ? '10⁰' : datum.value == 10 ? '10¹' : datum.value == 100 ? '10²' : datum.value == 1000 ? '10³' : datum.value == 10000 ? '10⁴' : ''", "tickSize": {"condition": {"test": "indexof([1, 10, 100, 1000, 10000], datum.value) >= 0", "value": 6}, "value": 3.5}}},
       "y2": {"field": "whi"}
      }},
     {"data": {"name": "sumC"}, "mark": {"type": "bar", "size": 44, "stroke": "#111", "strokeWidth": 1.5, "opacity": 1},
      "encoding": {
       "x": {"field": "g", "type": "nominal", "scale": {"type": "point", "domain": ["2% PGM", "4% PGM", "2% PTM", "4% PTM"], "padding": 0.65}, "axis": {"orient": "bottom", "title": null, "labelAngle": 0, "labelAlign": "right", "labelOffset": 17, "labelFontSize": 11.5, "tickSize": 5, "labelPadding": 5}},
       "y": {"field": "q1", "type": "quantitative", "scale": {"type": "log", "domain": [1, 10000], "nice": false}},
       "y2": {"field": "q3"},
       "color": {"field": "g", "type": "nominal", "scale": {"domain": ["2% PGM", "4% PGM", "2% PTM", "4% PTM"], "range": ["#97cb7e", "#5db14a", "#f6ad63", "#f29a3e"]}, "legend": null}
      }},
     {"data": {"name": "sumC"}, "mark": {"type": "tick", "size": 44, "thickness": 1.6, "color": "#111", "opacity": 1},
      "encoding": {
       "x": {"field": "g", "type": "nominal", "scale": {"type": "point", "domain": ["2% PGM", "4% PGM", "2% PTM", "4% PTM"], "padding": 0.65}, "axis": {"orient": "bottom", "title": null, "labelAngle": 0, "labelAlign": "left", "labelOffset": 17, "labelFontSize": 8.5, "labelPadding": 16, "ticks": false, "domain": false, "labelExpr": "'EX'"}},
       "y": {"field": "med", "type": "quantitative", "scale": {"type": "log", "domain": [1, 10000], "nice": false}}
      }},
     {"data": {"name": "sumC"}, "mark": {"type": "tick", "size": 22, "thickness": 1.5, "color": "#111", "opacity": 1},
      "encoding": {
       "x": {"field": "g", "type": "nominal", "scale": {"type": "point", "domain": ["2% PGM", "4% PGM", "2% PTM", "4% PTM"], "padding": 0.65}, "axis": null},
       "y": {"field": "wlo", "type": "quantitative", "scale": {"type": "log", "domain": [1, 10000], "nice": false}}
      }},
     {"data": {"name": "sumC"}, "mark": {"type": "tick", "size": 22, "thickness": 1.5, "color": "#111", "opacity": 1},
      "encoding": {
       "x": {"field": "g", "type": "nominal", "scale": {"type": "point", "domain": ["2% PGM", "4% PGM", "2% PTM", "4% PTM"], "padding": 0.65}, "axis": null},
       "y": {"field": "whi", "type": "quantitative", "scale": {"type": "log", "domain": [1, 10000], "nice": false}}
      }},
     {"data": {"name": "outC"}, "transform": [{"filter": "indexof(datum.g, 'PGM') >= 0"}], "mark": {"type": "point", "filled": true, "fill": "white", "stroke": "#111", "strokeWidth": 1, "size": 44, "opacity": 1},
      "encoding": {
       "x": {"field": "g", "type": "nominal", "scale": {"type": "point", "domain": ["2% PGM", "4% PGM", "2% PTM", "4% PTM"], "padding": 0.65}, "axis": null},
       "xOffset": {"field": "j", "type": "quantitative", "scale": {"domain": [-6, 6], "range": [-24, 24]}},
       "y": {"field": "v", "type": "quantitative", "scale": {"type": "log", "domain": [1, 10000], "nice": false}},
       "shape": {"field": "g", "type": "nominal", "scale": {"domain": ["2% PGM", "4% PGM", "2% PTM", "4% PTM"], "range": ["circle", "triangle-up", "square", "triangle-down"]}, "legend": null}
      }},
     {"data": {"name": "outC"}, "transform": [{"filter": "indexof(datum.g, 'PTM') >= 0"}], "mark": {"type": "point", "filled": true, "color": "#111", "size": 48, "opacity": 1},
      "encoding": {
       "x": {"field": "g", "type": "nominal", "scale": {"type": "point", "domain": ["2% PGM", "4% PGM", "2% PTM", "4% PTM"], "padding": 0.65}, "axis": null},
       "xOffset": {"field": "j", "type": "quantitative", "scale": {"domain": [-6, 6], "range": [-24, 24]}},
       "y": {"field": "v", "type": "quantitative", "scale": {"type": "log", "domain": [1, 10000], "nice": false}},
       "shape": {"field": "g", "type": "nominal", "scale": {"domain": ["2% PGM", "4% PGM", "2% PTM", "4% PTM"], "range": ["circle", "triangle-up", "square", "triangle-down"]}, "legend": null}
      }},
     {"data": {"name": "brC"}, "mark": {"type": "rule", "color": "#555", "strokeWidth": 1.4},
      "encoding": {
       "x": {"field": "a", "type": "nominal", "scale": {"type": "point", "domain": ["2% PGM", "4% PGM", "2% PTM", "4% PTM"], "padding": 0.65}, "axis": null},
       "x2": {"field": "b"},
       "y": {"field": "y", "type": "quantitative", "scale": {"type": "log", "domain": [1, 10000], "nice": false}}
      }},
     {"data": {"name": "brC"}, "transform": [{"filter": "datum.s == 'ns'"}], "mark": {"type": "text", "dx": 34, "dy": -6, "baseline": "alphabetic", "fontSize": 10, "color": "#444"},
      "encoding": {
       "x": {"field": "a", "type": "nominal", "scale": {"type": "point", "domain": ["2% PGM", "4% PGM", "2% PTM", "4% PTM"], "padding": 0.65}, "axis": null},
       "y": {"field": "y", "type": "quantitative", "scale": {"type": "log", "domain": [1, 10000], "nice": false}},
       "text": {"field": "s"}
      }},
     {"data": {"name": "brC"}, "transform": [{"filter": "datum.s != 'ns' && datum.span == 1"}], "mark": {"type": "text", "dx": 34, "dy": 3, "baseline": "alphabetic", "fontSize": 16, "fontWeight": "bold", "color": "#111"},
      "encoding": {
       "x": {"field": "a", "type": "nominal", "scale": {"type": "point", "domain": ["2% PGM", "4% PGM", "2% PTM", "4% PTM"], "padding": 0.65}, "axis": null},
       "y": {"field": "y", "type": "quantitative", "scale": {"type": "log", "domain": [1, 10000], "nice": false}},
       "text": {"field": "s"}
      }},
     {"data": {"name": "brC"}, "transform": [{"filter": "datum.s != 'ns' && datum.span == 2"}], "mark": {"type": "text", "dx": 68, "dy": 3, "baseline": "alphabetic", "fontSize": 16, "fontWeight": "bold", "color": "#111"},
      "encoding": {
       "x": {"field": "a", "type": "nominal", "scale": {"type": "point", "domain": ["2% PGM", "4% PGM", "2% PTM", "4% PTM"], "padding": 0.65}, "axis": null},
       "y": {"field": "y", "type": "quantitative", "scale": {"type": "log", "domain": [1, 10000], "nice": false}},
       "text": {"field": "s"}
      }}
    ]
   }
  ]
 },
 {
  "spacing": 41,
  "resolve": {"scale": {"color": "independent", "shape": "independent", "xOffset": "independent"}, "legend": {"color": "independent", "shape": "independent"}},
  "vconcat": [
   {
    "width": 292, "height": 184,
    "title": {"text": "B", "dx": -50, "dy": 8},
    "resolve": {"axis": {"x": "independent"}},
    "layer": [
     {"data": {"name": "ptsB"}, "mark": {"type": "circle", "size": 52, "opacity": 1},
      "encoding": {
       "x": {"field": "g", "type": "nominal", "scale": {"type": "point", "domain": ["2% PGM", "4% PGM", "2% PTM", "4% PTM"], "padding": 0.65}, "axis": {"orient": "bottom", "title": null, "labelAngle": 0, "labelAlign": "right", "labelOffset": 17, "labelFontSize": 11.5, "tickSize": 5, "labelPadding": 5}},
       "xOffset": {"field": "j", "type": "quantitative", "scale": {"domain": [-3, 3], "range": [-28, 28]}},
       "y": {"field": "v", "type": "quantitative", "scale": {"type": "log", "domain": [0.01, 10], "nice": false},
        "axis": {"title": "Median MSD₁ₛ (µm²)", "titleFontSize": 16, "titleFontWeight": "bold", "titlePadding": 6, "labelFontSize": 13, "labelPadding": 2, "values": [0.01, 0.02, 0.04, 0.06, 0.08, 0.1, 0.2, 0.4, 0.6, 0.8, 1, 2, 4, 6, 8, 10], "labelExpr": "datum.value == 10 ? '10' : datum.value == 1 ? '1' : datum.value == 0.1 ? '0.1' : datum.value == 0.01 ? '0.01' : ''", "tickSize": {"condition": {"test": "indexof([0.01, 0.1, 1, 10], datum.value) >= 0", "value": 6}, "value": 3.5}}},
       "color": {"field": "g", "type": "nominal", "scale": {"domain": ["2% PGM", "4% PGM", "2% PTM", "4% PTM"], "range": ["#93cb7b", "#5db546", "#f8b26a", "#f39a3b"]}, "legend": null}
      }},
     {"data": {"name": "sumB"}, "mark": {"type": "rule", "color": "#111", "strokeWidth": 1.5},
      "encoding": {
       "x": {"field": "g", "type": "nominal", "scale": {"type": "point", "domain": ["2% PGM", "4% PGM", "2% PTM", "4% PTM"], "padding": 0.65}, "axis": null},
       "y": {"field": "q1", "type": "quantitative", "scale": {"type": "log", "domain": [0.01, 10], "nice": false}},
       "y2": {"field": "q3"}
      }},
     {"data": {"name": "sumB"}, "mark": {"type": "tick", "size": 46, "thickness": 1.6, "color": "#111", "opacity": 1},
      "encoding": {
       "x": {"field": "g", "type": "nominal", "scale": {"type": "point", "domain": ["2% PGM", "4% PGM", "2% PTM", "4% PTM"], "padding": 0.65}, "axis": {"orient": "bottom", "title": null, "labelAngle": 0, "labelAlign": "left", "labelOffset": 17, "labelFontSize": 8.5, "labelPadding": 16, "ticks": false, "domain": false, "labelExpr": "'EX'"}},
       "y": {"field": "med", "type": "quantitative", "scale": {"type": "log", "domain": [0.01, 10], "nice": false}}
      }},
     {"data": {"name": "sumB"}, "mark": {"type": "tick", "size": 24, "thickness": 1.5, "color": "#111", "opacity": 1},
      "encoding": {
       "x": {"field": "g", "type": "nominal", "scale": {"type": "point", "domain": ["2% PGM", "4% PGM", "2% PTM", "4% PTM"], "padding": 0.65}, "axis": null},
       "y": {"field": "q1", "type": "quantitative", "scale": {"type": "log", "domain": [0.01, 10], "nice": false}}
      }},
     {"data": {"name": "sumB"}, "mark": {"type": "tick", "size": 24, "thickness": 1.5, "color": "#111", "opacity": 1},
      "encoding": {
       "x": {"field": "g", "type": "nominal", "scale": {"type": "point", "domain": ["2% PGM", "4% PGM", "2% PTM", "4% PTM"], "padding": 0.65}, "axis": null},
       "y": {"field": "q3", "type": "quantitative", "scale": {"type": "log", "domain": [0.01, 10], "nice": false}}
      }},
     {"data": {"name": "brB"}, "mark": {"type": "rule", "color": "#555", "strokeWidth": 1.4},
      "encoding": {
       "x": {"field": "a", "type": "nominal", "scale": {"type": "point", "domain": ["2% PGM", "4% PGM", "2% PTM", "4% PTM"], "padding": 0.65}, "axis": null},
       "x2": {"field": "b"},
       "y": {"field": "y", "type": "quantitative", "scale": {"type": "log", "domain": [0.01, 10], "nice": false}}
      }},
     {"data": {"name": "brB"}, "transform": [{"filter": "datum.s == 'ns'"}], "mark": {"type": "text", "dx": 34, "dy": -6, "baseline": "alphabetic", "fontSize": 10, "color": "#444"},
      "encoding": {
       "x": {"field": "a", "type": "nominal", "scale": {"type": "point", "domain": ["2% PGM", "4% PGM", "2% PTM", "4% PTM"], "padding": 0.65}, "axis": null},
       "y": {"field": "y", "type": "quantitative", "scale": {"type": "log", "domain": [0.01, 10], "nice": false}},
       "text": {"field": "s"}
      }},
     {"data": {"name": "brB"}, "transform": [{"filter": "datum.s != 'ns' && datum.span == 2"}], "mark": {"type": "text", "dx": 68, "dy": 3, "baseline": "alphabetic", "fontSize": 16, "fontWeight": "bold", "color": "#111"},
      "encoding": {
       "x": {"field": "a", "type": "nominal", "scale": {"type": "point", "domain": ["2% PGM", "4% PGM", "2% PTM", "4% PTM"], "padding": 0.65}, "axis": null},
       "y": {"field": "y", "type": "quantitative", "scale": {"type": "log", "domain": [0.01, 10], "nice": false}},
       "text": {"field": "s"}
      }}
    ]
   },
   {
    "width": 292, "height": 183,
    "title": {"text": "D", "dx": -50, "dy": 41},
    "resolve": {"axis": {"x": "independent"}},
    "layer": [
     {"data": {"name": "sumD"}, "mark": {"type": "rule", "color": "#111", "strokeWidth": 1.5},
      "encoding": {
       "x": {"field": "g", "type": "nominal", "scale": {"type": "point", "domain": ["2% PGM", "4% PGM", "2% PTM", "4% PTM"], "padding": 0.65}, "axis": null},
       "y": {"field": "wlo", "type": "quantitative", "scale": {"type": "log", "domain": [0.00001, 100000], "nice": false},
        "axis": {"title": "Microviscosity η (Pa)", "titleFontSize": 17, "titleFontWeight": "bold", "titlePadding": 3, "labelFontSize": 11, "labelPadding": 2, "values": [0.00001, 0.0000316, 0.0001, 0.000316, 0.001, 0.00316, 0.01, 0.0316, 0.1, 0.316, 1, 3.16, 10, 31.6, 100, 316, 1000, 3160, 10000, 31600, 100000], "labelExpr": "datum.value == 0.0001 ? '10⁻⁴' : datum.value == 0.01 ? '10⁻²' : datum.value == 1 ? '10⁰' : datum.value == 100 ? '10²' : datum.value == 10000 ? '10⁴' : ''", "tickSize": {"condition": {"test": "indexof([0.0001, 0.01, 1, 100, 10000], datum.value) >= 0", "value": 6}, "value": 3.5}}},
       "y2": {"field": "whi"}
      }},
     {"data": {"name": "sumD"}, "mark": {"type": "bar", "size": 44, "stroke": "#111", "strokeWidth": 1.5, "opacity": 1},
      "encoding": {
       "x": {"field": "g", "type": "nominal", "scale": {"type": "point", "domain": ["2% PGM", "4% PGM", "2% PTM", "4% PTM"], "padding": 0.65}, "axis": {"orient": "bottom", "title": null, "labelAngle": 0, "labelAlign": "right", "labelOffset": 17, "labelFontSize": 11.5, "tickSize": 5, "labelPadding": 5}},
       "y": {"field": "q1", "type": "quantitative", "scale": {"type": "log", "domain": [0.00001, 100000], "nice": false}},
       "y2": {"field": "q3"},
       "color": {"field": "g", "type": "nominal", "scale": {"domain": ["2% PGM", "4% PGM", "2% PTM", "4% PTM"], "range": ["#97cb7e", "#5db14a", "#f6ad63", "#f29a3e"]}, "legend": null}
      }},
     {"data": {"name": "sumD"}, "mark": {"type": "tick", "size": 44, "thickness": 1.6, "color": "#111", "opacity": 1},
      "encoding": {
       "x": {"field": "g", "type": "nominal", "scale": {"type": "point", "domain": ["2% PGM", "4% PGM", "2% PTM", "4% PTM"], "padding": 0.65}, "axis": {"orient": "bottom", "title": null, "labelAngle": 0, "labelAlign": "left", "labelOffset": 17, "labelFontSize": 8.5, "labelPadding": 16, "ticks": false, "domain": false, "labelExpr": "'EX'"}},
       "y": {"field": "med", "type": "quantitative", "scale": {"type": "log", "domain": [0.00001, 100000], "nice": false}}
      }},
     {"data": {"name": "sumD"}, "mark": {"type": "tick", "size": 22, "thickness": 1.5, "color": "#111", "opacity": 1},
      "encoding": {
       "x": {"field": "g", "type": "nominal", "scale": {"type": "point", "domain": ["2% PGM", "4% PGM", "2% PTM", "4% PTM"], "padding": 0.65}, "axis": null},
       "y": {"field": "wlo", "type": "quantitative", "scale": {"type": "log", "domain": [0.00001, 100000], "nice": false}}
      }},
     {"data": {"name": "sumD"}, "mark": {"type": "tick", "size": 22, "thickness": 1.5, "color": "#111", "opacity": 1},
      "encoding": {
       "x": {"field": "g", "type": "nominal", "scale": {"type": "point", "domain": ["2% PGM", "4% PGM", "2% PTM", "4% PTM"], "padding": 0.65}, "axis": null},
       "y": {"field": "whi", "type": "quantitative", "scale": {"type": "log", "domain": [0.00001, 100000], "nice": false}}
      }},
     {"data": {"name": "outD"}, "transform": [{"filter": "indexof(datum.g, 'PGM') >= 0"}], "mark": {"type": "point", "filled": true, "fill": "white", "stroke": "#111", "strokeWidth": 1, "size": 52, "opacity": 1},
      "encoding": {
       "x": {"field": "g", "type": "nominal", "scale": {"type": "point", "domain": ["2% PGM", "4% PGM", "2% PTM", "4% PTM"], "padding": 0.65}, "axis": null},
       "xOffset": {"field": "j", "type": "quantitative", "scale": {"domain": [-6, 6], "range": [-24, 24]}},
       "y": {"field": "v", "type": "quantitative", "scale": {"type": "log", "domain": [0.00001, 100000], "nice": false}},
       "shape": {"field": "g", "type": "nominal", "scale": {"domain": ["2% PGM", "4% PGM", "2% PTM", "4% PTM"], "range": ["circle", "triangle-up", "square", "triangle-down"]}, "legend": null}
      }},
     {"data": {"name": "outD"}, "transform": [{"filter": "indexof(datum.g, 'PTM') >= 0"}], "mark": {"type": "point", "filled": true, "color": "#111", "size": 60, "opacity": 1},
      "encoding": {
       "x": {"field": "g", "type": "nominal", "scale": {"type": "point", "domain": ["2% PGM", "4% PGM", "2% PTM", "4% PTM"], "padding": 0.65}, "axis": null},
       "xOffset": {"field": "j", "type": "quantitative", "scale": {"domain": [-6, 6], "range": [-24, 24]}},
       "y": {"field": "v", "type": "quantitative", "scale": {"type": "log", "domain": [0.00001, 100000], "nice": false}},
       "shape": {"field": "g", "type": "nominal", "scale": {"domain": ["2% PGM", "4% PGM", "2% PTM", "4% PTM"], "range": ["circle", "triangle-up", "square", "triangle-down"]}, "legend": null}
      }},
     {"data": {"name": "brD"}, "mark": {"type": "rule", "color": "#555", "strokeWidth": 1.4},
      "encoding": {
       "x": {"field": "a", "type": "nominal", "scale": {"type": "point", "domain": ["2% PGM", "4% PGM", "2% PTM", "4% PTM"], "padding": 0.65}, "axis": null},
       "x2": {"field": "b"},
       "y": {"field": "y", "type": "quantitative", "scale": {"type": "log", "domain": [0.00001, 100000], "nice": false}}
      }},
     {"data": {"name": "brD"}, "transform": [{"filter": "datum.s == 'ns'"}], "mark": {"type": "text", "dx": 34, "dy": -6, "baseline": "alphabetic", "fontSize": 10, "color": "#444"},
      "encoding": {
       "x": {"field": "a", "type": "nominal", "scale": {"type": "point", "domain": ["2% PGM", "4% PGM", "2% PTM", "4% PTM"], "padding": 0.65}, "axis": null},
       "y": {"field": "y", "type": "quantitative", "scale": {"type": "log", "domain": [0.00001, 100000], "nice": false}},
       "text": {"field": "s"}
      }},
     {"data": {"name": "brD"}, "transform": [{"filter": "datum.s != 'ns' && datum.span == 1"}], "mark": {"type": "text", "dx": 34, "dy": 3, "baseline": "alphabetic", "fontSize": 16, "fontWeight": "bold", "color": "#111"},
      "encoding": {
       "x": {"field": "a", "type": "nominal", "scale": {"type": "point", "domain": ["2% PGM", "4% PGM", "2% PTM", "4% PTM"], "padding": 0.65}, "axis": null},
       "y": {"field": "y", "type": "quantitative", "scale": {"type": "log", "domain": [0.00001, 100000], "nice": false}},
       "text": {"field": "s"}
      }},
     {"data": {"name": "brD"}, "transform": [{"filter": "datum.s != 'ns' && datum.span == 2"}], "mark": {"type": "text", "dx": 68, "dy": 3, "baseline": "alphabetic", "fontSize": 16, "fontWeight": "bold", "color": "#111"},
      "encoding": {
       "x": {"field": "a", "type": "nominal", "scale": {"type": "point", "domain": ["2% PGM", "4% PGM", "2% PTM", "4% PTM"], "padding": 0.65}, "axis": null},
       "y": {"field": "y", "type": "quantitative", "scale": {"type": "log", "domain": [0.00001, 100000], "nice": false}},
       "text": {"field": "s"}
      }}
    ]
   }
  ]
 }
]
}
